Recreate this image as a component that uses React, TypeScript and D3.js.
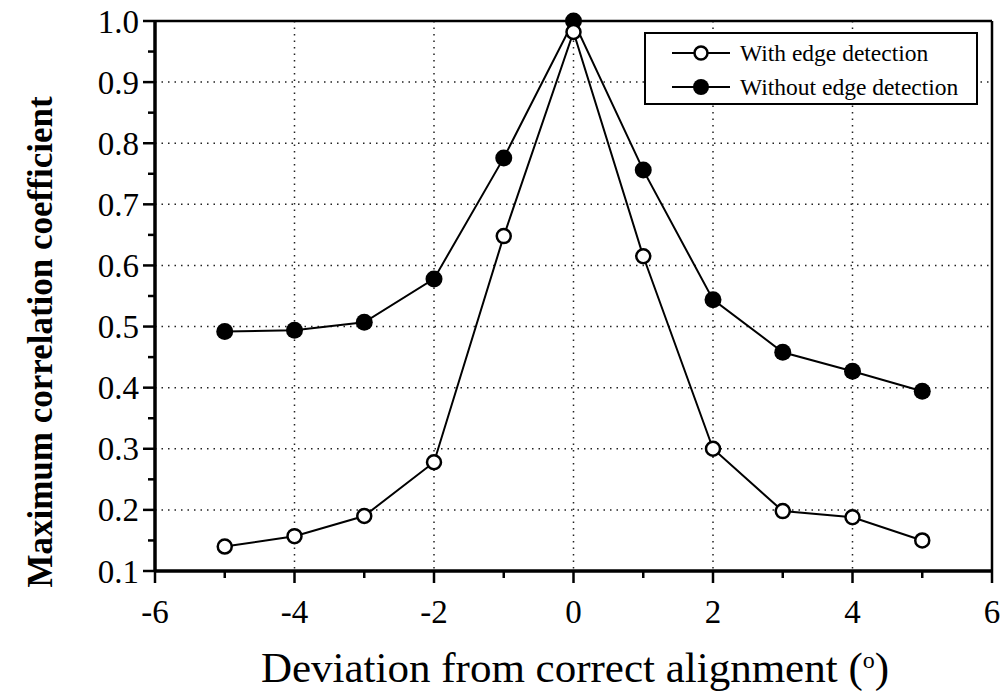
import React from "react";
import * as d3 from "d3";

const xValues = [-5, -4, -3, -2, -1, 0, 1, 2, 3, 4, 5];
const withEdge = [0.14, 0.157, 0.19, 0.278, 0.648, 0.982, 0.615, 0.3, 0.198, 0.188, 0.15];
const withoutEdge = [0.492, 0.494, 0.507, 0.578, 0.776, 1.0, 0.756, 0.544, 0.458, 0.427, 0.394];
const xTicks = [-6, -4, -2, 0, 2, 4, 6];
const xMinorTicks = [-5, -3, -1, 1, 3, 5];
const yTicks = [0.1, 0.2, 0.3, 0.4, 0.5, 0.6, 0.7, 0.8, 0.9, 1.0];
const yMinorTicks = [0.15, 0.25, 0.35, 0.45, 0.55, 0.65, 0.75, 0.85, 0.95];
const seriesNames = ["With edge detection", "Without edge detection"];

const W = 1003;
const H = 696;
const left = 155, right = 992, top = 21, bottom = 571;
const font = "'Liberation Serif', 'Times New Roman', serif";

export default function App() {
  const x = d3.scaleLinear().domain([-6, 6]).range([left, right]);
  const y = d3.scaleLinear().domain([0.1, 1.0]).range([bottom, top]);
  const line = d3
    .line<[number, number]>()
    .x((d) => x(d[0]))
    .y((d) => y(d[1]));
  const ptsWith: [number, number][] = xValues.map((v, i) => [v, withEdge[i]]);
  const ptsWithout: [number, number][] = xValues.map((v, i) => [v, withoutEdge[i]]);
  const gridX = xTicks.filter((t) => t > -6 && t < 6);
  const gridY = yTicks.filter((t) => t > 0.1 && t < 1.0);

  return (
    <svg
      width={W}
      height={H}
      style={{ position: "absolute", left: 0, top: 0, background: "#fff" }}
      fontFamily={font}
    >
      <rect x={0} y={0} width={W} height={H} fill="#fff" />
      {/* grid */}
      {gridX.map((t) => (
        <line key={"gx" + t} x1={x(t)} x2={x(t)} y1={top} y2={bottom} stroke="#222" strokeWidth={1.5} strokeDasharray="1.5,5" />
      ))}
      {gridY.map((t) => (
        <line key={"gy" + t} x1={left} x2={right} y1={y(t)} y2={y(t)} stroke="#222" strokeWidth={1.5} strokeDasharray="1.5,5" />
      ))}
      {/* frame */}
      <line x1={left} x2={right} y1={top} y2={top} stroke="#000" strokeWidth={2.5} />
      <line x1={right} x2={right} y1={top} y2={bottom} stroke="#000" strokeWidth={2.5} />
      <line x1={left} x2={left} y1={top - 1} y2={bottom + 1} stroke="#000" strokeWidth={3.5} />
      <line x1={left - 1} x2={right} y1={bottom} y2={bottom} stroke="#000" strokeWidth={3.5} />
      {/* y ticks */}
      {yTicks.map((t) => (
        <g key={"yt" + t}>
          <line x1={left - 12} x2={left} y1={y(t)} y2={y(t)} stroke="#000" strokeWidth={2.5} />
          <text x={left - 16} y={y(t)} dy="0.35em" textAnchor="end" fontSize={33} fill="#000">
            {d3.format(".1f")(t)}
          </text>
        </g>
      ))}
      {yMinorTicks.map((t) => (
        <line key={"ym" + t} x1={left - 7} x2={left} y1={y(t)} y2={y(t)} stroke="#000" strokeWidth={2.5} />
      ))}
      {/* x ticks */}
      {xTicks.map((t) => (
        <g key={"xt" + t}>
          <line x1={x(t)} x2={x(t)} y1={bottom} y2={bottom + 12} stroke="#000" strokeWidth={2.5} />
          <text x={x(t)} y={bottom + 52} textAnchor="middle" fontSize={33} fill="#000">
            {t}
          </text>
        </g>
      ))}
      {xMinorTicks.map((t) => (
        <line key={"xm" + t} x1={x(t)} x2={x(t)} y1={bottom} y2={bottom + 7} stroke="#000" strokeWidth={2.5} />
      ))}
      {/* series */}
      <path d={line(ptsWith) || ""} fill="none" stroke="#000" strokeWidth={2} />
      <path d={line(ptsWithout) || ""} fill="none" stroke="#000" strokeWidth={2} />
      {ptsWithout.map((p, i) => (
        <circle key={"f" + i} cx={x(p[0])} cy={y(p[1])} r={8.5} fill="#000" />
      ))}
      {ptsWith.map((p, i) => (
        <circle key={"o" + i} cx={x(p[0])} cy={y(p[1])} r={7} fill="#fff" stroke="#000" strokeWidth={2.5} />
      ))}
      {/* legend */}
      <rect x={645} y={33} width={332} height={71} fill="#fff" stroke="#000" strokeWidth={2} />
      <line x1={672} x2={730} y1={53} y2={53} stroke="#000" strokeWidth={2} />
      <circle cx={701} cy={53} r={6.5} fill="#fff" stroke="#000" strokeWidth={2.5} />
      <text x={740} y={53} dy="0.35em" fontSize={23.5} fill="#000">{seriesNames[0]}</text>
      <line x1={672} x2={730} y1={87} y2={87} stroke="#000" strokeWidth={2} />
      <circle cx={701} cy={87} r={8} fill="#000" />
      <text x={740} y={87} dy="0.35em" fontSize={23.5} fill="#000">{seriesNames[1]}</text>
      {/* axis titles */}
      <text
        transform={`translate(40, 342) rotate(-90)`}
        textAnchor="middle"
        dy="0.35em"
        fontSize={35}
        fontWeight="bold"
        fill="#000"
      >
        Maximum correlation coefficient
      </text>
      <text x={575} y={682} textAnchor="middle" fontSize={43} fill="#000">
        Deviation from correct alignment (<tspan dy={-14} fontSize={24}>o</tspan><tspan dy={14}>)</tspan>
      </text>
    </svg>
  );
}
